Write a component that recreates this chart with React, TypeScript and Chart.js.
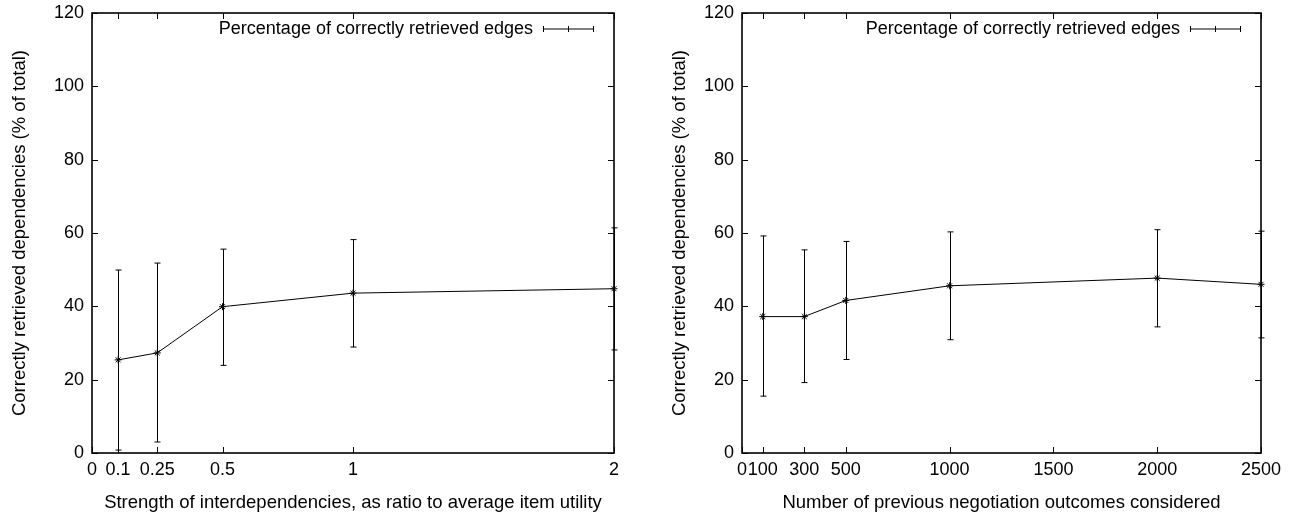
import React, { useEffect, useRef } from "react";
import { Chart, registerables } from "chart.js";

Chart.register(...registerables);

const FONT_FAMILY = "'Liberation Sans', Arial, Helvetica, sans-serif";
const TICK_SIZE = 18;
const TITLE_SIZE = 18.5;

// ---- Left panel data ----
const leftX = [0.1, 0.25, 0.5, 1, 2];
const leftMean = [25.4, 27.3, 39.9, 43.6, 44.8];
const leftLow = [0.8, 3.0, 23.9, 28.9, 28.1];
const leftHigh = [49.9, 51.8, 55.6, 58.2, 61.4];
const leftTicks = [0, 0.1, 0.25, 0.5, 1, 2];

// ---- Right panel data ----
const rightX = [100, 300, 500, 1000, 2000, 2500];
const rightMean = [37.2, 37.2, 41.6, 45.6, 47.7, 46.0];
const rightLow = [15.5, 19.2, 25.5, 30.9, 34.4, 31.4];
const rightHigh = [59.2, 55.4, 57.7, 60.3, 60.9, 60.5];
const rightTicks = [0, 100, 300, 500, 1000, 1500, 2000, 2500];

const yTicks = [0, 20, 40, 60, 80, 100, 120];

const legendLabel = "Percentage of correctly retrieved edges";
const yTitle = "Correctly retrieved dependencies (% of total)";
const leftXTitle = "Strength of interdependencies, as ratio to average item utility";
const rightXTitle = "Number of previous negotiation outcomes considered";

const gnuFramePlugin = {
  id: "gnuframe",
  afterDatasetsDraw(chart: any, _args: any, opts: any) {
    const { ctx, chartArea: a, scales } = chart;
    const xs = scales.x;
    const ys = scales.y;
    ctx.save();
    ctx.strokeStyle = "#000";
    ctx.fillStyle = "#000";

    // error bars
    ctx.lineWidth = 1;
    const ds = chart.data.datasets[0];
    const lows: number[] = opts.lows || [];
    const highs: number[] = opts.highs || [];
    ds.data.forEach((p: any, i: number) => {
      const px = Math.round(xs.getPixelForValue(p.x)) + 0.5;
      const y1 = ys.getPixelForValue(lows[i]);
      const y2 = ys.getPixelForValue(highs[i]);
      ctx.beginPath();
      ctx.moveTo(px, y1);
      ctx.lineTo(px, y2);
      ctx.moveTo(px - 3, y1);
      ctx.lineTo(px + 3, y1);
      ctx.moveTo(px - 3, y2);
      ctx.lineTo(px + 3, y2);
      ctx.stroke();
    });

    // inward ticks on all four sides
    const tl = 6;
    ctx.beginPath();
    xs.ticks.forEach((t: any) => {
      const px = Math.round(xs.getPixelForValue(t.value)) + 0.5;
      ctx.moveTo(px, a.bottom);
      ctx.lineTo(px, a.bottom - tl);
      ctx.moveTo(px, a.top);
      ctx.lineTo(px, a.top + tl);
    });
    ys.ticks.forEach((t: any) => {
      const py = Math.round(ys.getPixelForValue(t.value)) + 0.5;
      ctx.moveTo(a.left, py);
      ctx.lineTo(a.left + tl, py);
      ctx.moveTo(a.right, py);
      ctx.lineTo(a.right - tl, py);
    });
    ctx.stroke();

    // frame
    ctx.lineWidth = 1.6;
    ctx.strokeRect(a.left, a.top, a.right - a.left, a.bottom - a.top);

    // legend
    const sampleEnd = a.right - 21;
    const sampleStart = sampleEnd - 50;
    const ly = a.top + 16;
    ctx.lineWidth = 1;
    ctx.beginPath();
    ctx.moveTo(sampleStart, ly);
    ctx.lineTo(sampleEnd, ly);
    [sampleStart, (sampleStart + sampleEnd) / 2, sampleEnd].forEach((sx) => {
      const rx = Math.round(sx) + 0.5;
      ctx.moveTo(rx, ly - 3);
      ctx.lineTo(rx, ly + 3);
    });
    ctx.stroke();
    ctx.font = `${TICK_SIZE}px ${FONT_FAMILY}`;
    ctx.textAlign = "right";
    ctx.textBaseline = "middle";
    ctx.fillText(ds.label, sampleStart - 10, ly);
    ctx.restore();
  },
};

type PlotProps = {
  xs: number[];
  mean: number[];
  low: number[];
  high: number[];
  ticks: number[];
  xMax: number;
  xTitle: string;
  yWidth: number;
  rightPad: number;
  yTitlePad: number;
  left: number;
};

function Plot(props: PlotProps) {
  const ref = useRef<HTMLCanvasElement | null>(null);
  useEffect(() => {
    if (!ref.current) return;
    const tickFont = { family: FONT_FAMILY, size: TICK_SIZE };
    const titleFont = { family: FONT_FAMILY, size: TITLE_SIZE };
    const chart = new Chart(ref.current, {
      type: "scatter",
      data: {
        datasets: [
          {
            label: legendLabel,
            data: props.xs.map((x, i) => ({ x, y: props.mean[i] })),
            showLine: true,
            borderColor: "#000",
            borderWidth: 1,
            pointStyle: "star",
            pointRadius: 3.5,
            pointBorderColor: "#000",
            pointBackgroundColor: "#000",
            pointBorderWidth: 1,
            clip: false,
          } as any,
        ],
      },
      options: {
        responsive: false,
        animation: false,
        events: [],
        layout: { padding: { left: 0, right: props.rightPad, top: 13, bottom: 0 } },
        plugins: {
          legend: { display: false },
          tooltip: { enabled: false },
          gnuframe: { lows: props.low, highs: props.high },
        } as any,
        scales: {
          x: {
            type: "linear",
            min: 0,
            max: props.xMax,
            grid: { display: false, drawTicks: true, tickLength: 6 },
            border: { display: false },
            afterBuildTicks: (s: any) => {
              s.ticks = props.ticks.map((v) => ({ value: v }));
            },
            afterFit: (s: any) => {
              s.height = 67;
            },
            ticks: {
              autoSkip: false,
              maxRotation: 0,
              minRotation: 0,
              padding: 0,
              color: "#000",
              font: tickFont,
              callback: (v: any) => String(v),
            },
            title: {
              display: true,
              text: props.xTitle,
              color: "#000",
              font: titleFont,
              padding: { top: 0, bottom: 5.9 },
            },
          },
          y: {
            type: "linear",
            min: 0,
            max: 120,
            grid: { display: false, drawTicks: true, tickLength: 8 },
            border: { display: false },
            afterBuildTicks: (s: any) => {
              s.ticks = yTicks.map((v) => ({ value: v }));
            },
            afterFit: (s: any) => {
              s.width = props.yWidth;
            },
            ticks: {
              padding: 0,
              color: "#000",
              font: tickFont,
              callback: (v: any) => String(v),
            },
            title: {
              display: true,
              text: yTitle,
              color: "#000",
              font: titleFont,
              padding: { top: props.yTitlePad, bottom: 0 },
            },
          },
        },
      } as any,
      plugins: [gnuFramePlugin as any],
    });
    return () => chart.destroy();
  }, []);
  return (
    <canvas
      ref={ref}
      width={648}
      height={520}
      style={{ position: "absolute", left: props.left, top: 0, width: 648, height: 520, display: "block" }}
    />
  );
}

export default function App() {
  return (
    <div
      style={{
        position: "fixed",
        left: 0,
        top: 0,
        width: 1296,
        height: 520,
        background: "#fff",
        overflow: "hidden",
      }}
    >
      <Plot
        xs={leftX}
        mean={leftMean}
        low={leftLow}
        high={leftHigh}
        ticks={leftTicks}
        xMax={2}
        xTitle={leftXTitle}
        yWidth={92}
        rightPad={34}
        yTitlePad={8.9}
        left={0}
      />
      <Plot
        xs={rightX}
        mean={rightMean}
        low={rightLow}
        high={rightHigh}
        ticks={rightTicks}
        xMax={2500}
        xTitle={rightXTitle}
        yWidth={94}
        rightPad={35}
        yTitlePad={20.9}
        left={648}
      />
    </div>
  );
}
